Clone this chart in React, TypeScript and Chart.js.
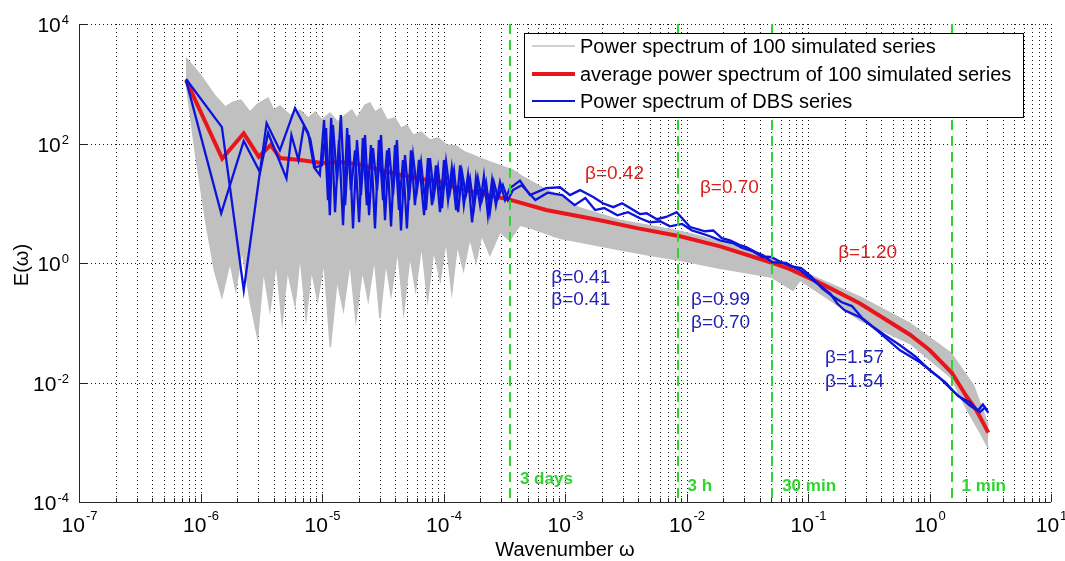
import React, { useEffect, useRef } from "react";
import { Chart, registerables } from "chart.js";

Chart.register(...registerables);

// ---------- axis / tick definitions ----------
const xDecades = [-7, -6, -5, -4, -3, -2, -1, 0, 1];
const yDecades = [-4, -2, 0, 2, 4];
const minorMultipliers = [2, 3, 4, 5, 6, 7, 8, 9];
const xMin = 1e-7;
const xMax = 10;
const yMin = 1e-4;
const yMax = 1e4;

const legendLabels = [
  "Power spectrum of 100 simulated series",
  "average power spectrum of 100 simulated series",
  "Power spectrum of DBS series",
];
const xTitle = "Wavenumber \u03c9";
const yTitle = "E(\u03c9)";

// ---------- simulated series envelope (gray band) ----------
const simUpperFreq = [7.6e-7, 1e-6, 1.3e-6, 1.6e-6, 1.85e-6, 2.15e-6, 2.55e-6, 2.95e-6, 3.6e-6, 4.0e-6, 4.5e-6, 5.45e-6, 6.6e-6, 7.7e-6, 8.8e-6, 1.0e-5, 1.16e-5, 1.35e-5, 1.55e-5, 1.76e-5, 1.94e-5, 2.26e-5, 2.48e-5, 2.73e-5, 3.06e-5, 3.43e-5, 3.99e-5, 4.47e-5, 5.0e-5, 5.61e-5, 6.53e-5, 7.74e-5, 9.01e-5, 1.07e-4, 1.27e-4, 1.5e-4, 1.75e-4, 2.0e-4, 2.41e-4, 2.92e-4, 3.73e-4, 4.4e-4, 6.2e-4, 9.1e-4, 1.33e-3, 2.84e-3, 8.85e-3, 0.0228, 0.05, 0.104, 0.268, 0.691, 1.5, 2.3, 3.05];
const simUpperPower = [2700, 1400, 650, 410, 490, 533, 336, 457, 575, 363, 424, 299, 363, 266, 336, 247, 323, 228, 299, 363, 266, 440, 475, 336, 390, 247, 266, 181, 203, 138, 155, 114, 123, 94, 91, 72, 64, 57, 49, 43, 35.8, 28.4, 19.3, 13.2, 8.3, 5.2, 3.4, 2.1, 1.25, 0.63, 0.27, 0.098, 0.031, 0.009, 0.0019];

const simLowerFreq = [7.6e-7, 9e-7, 1.1e-6, 1.3e-6, 1.5e-6, 1.75e-6, 1.95e-6, 2.2e-6, 2.55e-6, 2.95e-6, 3.3e-6, 3.73e-6, 4.2e-6, 4.7e-6, 5.2e-6, 6e-6, 6.6e-6, 7.4e-6, 8.2e-6, 9.2e-6, 1.04e-5, 1.17e-5, 1.33e-5, 1.5e-5, 1.7e-5, 1.9e-5, 2.15e-5, 2.4e-5, 2.7e-5, 3.0e-5, 3.35e-5, 3.7e-5, 4.2e-5, 4.7e-5, 5.3e-5, 5.9e-5, 6.6e-5, 7.4e-5, 8.3e-5, 9.4e-5, 1.05e-4, 1.17e-4, 1.3e-4, 1.46e-4, 1.65e-4, 1.85e-4, 2.06e-4, 2.41e-4, 2.92e-4, 3.5e-4, 4.26e-4, 5.15e-4, 9.1e-4, 2.5e-3, 5e-3, 8.85e-3, 0.0189, 0.05, 0.075, 0.086, 0.152, 0.268, 0.691, 1.5, 2.05, 2.6, 3.05];
const simLowerPower = [1070, 77, 5.2, 0.76, 0.27, 1.03, 0.35, 1.64, 0.238, 0.057, 0.76, 0.162, 1.03, 0.102, 0.76, 0.196, 1.35, 0.119, 0.76, 0.238, 1.03, 0.039, 0.515, 0.162, 1.03, 0.11, 0.76, 0.238, 1.2, 0.119, 1.03, 0.29, 1.64, 0.15, 1.3, 0.35, 2.0, 0.238, 1.64, 0.515, 2.4, 0.324, 2.0, 0.76, 2.6, 1.03, 2.9, 1.35, 3.3, 2.4, 4.3, 3.9, 2.6, 1.75, 1.35, 1.11, 0.82, 0.58, 0.35, 0.515, 0.238, 0.11, 0.045, 0.0122, 0.0034, 0.00147, 0.0008];

// ---------- average of simulated series (red) ----------
const avgFreq = [7.6e-7, 1.51e-6, 2.27e-6, 3.02e-6, 3.78e-6, 4.53e-6, 6.6e-6, 1.0e-5, 1.41e-5, 2.0e-5, 3.0e-5, 4.4e-5, 7e-5, 9.4e-5, 1.2e-4, 2.0e-4, 3.5e-4, 7e-4, 1.94e-3, 4e-3, 8.85e-3, 0.0189, 0.049, 0.0711, 0.126, 0.268, 0.392, 0.691, 1.0, 1.52, 2.0, 2.44, 3.05];
const avgPower = [1150, 56, 148, 60, 94, 57, 53, 47, 49, 45, 36, 30, 25, 23, 19, 14.5, 11.5, 7.7, 5.2, 3.8, 2.8, 1.9, 1.03, 0.79, 0.46, 0.21, 0.13, 0.063, 0.035, 0.0147, 0.006, 0.0034, 0.00145];

// ---------- DBS series (blue, two realisations) ----------
const dbsAFreq = [7.6e-7, 1.5e-6, 2.27e-6, 3.5e-6, 4.5e-6, 6.0e-6, 7.7e-6, 8.6e-6, 9.6e-6, 1.04e-5, 1.12e-5, 1.19e-5, 1.28e-5, 1.38e-5, 1.49e-5, 1.61e-5, 1.73e-5, 1.87e-5, 2.02e-5, 2.17e-5, 2.34e-5, 2.53e-5, 2.73e-5, 2.94e-5, 3.18e-5, 3.43e-5, 3.70e-5, 3.99e-5, 4.30e-5, 4.64e-5, 5.00e-5, 5.40e-5, 5.82e-5, 6.28e-5, 6.92e-5, 7.45e-5, 8.04e-5, 8.67e-5, 9.36e-5, 1.01e-4, 1.09e-4, 1.17e-4, 1.27e-4, 1.37e-4, 1.47e-4, 1.59e-4, 1.72e-4, 1.85e-4, 2.0e-4, 2.15e-4, 2.32e-4, 2.51e-4, 2.70e-4, 2.92e-4, 3.21e-4, 3.52e-4, 4.26e-4, 5.15e-4, 7e-4, 9.1e-4, 1.1e-3, 1.33e-3, 1.72e-3, 2.05e-3, 2.5e-3, 2.95e-3, 3.43e-3, 4.14e-3, 4.7e-3, 5.7e-3, 6.8e-3, 8.3e-3, 0.0107, 0.0142, 0.0166, 0.0195, 0.0228, 0.0275, 0.031, 0.037, 0.0424, 0.051, 0.066, 0.0767, 0.086, 0.11, 0.152, 0.174, 0.2, 0.268, 0.367, 0.572, 0.835, 1.22, 1.57, 2.15, 2.6, 2.86, 3.05];
const dbsAPower = [1200, 188, 0.35, 220, 77, 390, 150, 40, 29.6, 247, 11.3, 266, 7.1, 114, 4.3, 181, 16.6, 77, 4.8, 123, 9.3, 94, 3.8, 114, 11.3, 77, 4.1, 94, 7.7, 53, 3.8, 77, 9.3, 53, 6.3, 57, 9.3, 43, 7.1, 53, 11.3, 38.7, 7.7, 43, 9.3, 29.6, 4.8, 26.3, 9.3, 28.4, 6.3, 24.4, 9.3, 22.5, 11.3, 17.9, 24, 13.7, 17.9, 18.5, 13.7, 16.6, 12.6, 10, 8.6, 10, 8.3, 6.6, 6.8, 5.4, 5.9, 7.1, 4.0, 3.4, 3.5, 2.6, 2.4, 1.99, 1.84, 1.52, 1.35, 1.03, 1.0, 0.85, 0.76, 0.515, 0.31, 0.21, 0.162, 0.124, 0.075, 0.0346, 0.0218, 0.0118, 0.0071, 0.0041, 0.0032, 0.0038, 0.0031];

const dbsBFreq = [7.6e-7, 1.48e-6, 2.27e-6, 3.09e-6, 3.6e-6, 5.1e-6, 5.6e-6, 6.4e-6, 7.1e-6, 8e-6, 8.8e-6, 1.0e-5, 1.08e-5, 1.16e-5, 1.23e-5, 1.33e-5, 1.43e-5, 1.55e-5, 1.67e-5, 1.80e-5, 1.94e-5, 2.09e-5, 2.26e-5, 2.44e-5, 2.63e-5, 2.84e-5, 3.06e-5, 3.30e-5, 3.56e-5, 3.84e-5, 4.14e-5, 4.47e-5, 4.82e-5, 5.20e-5, 5.61e-5, 6.05e-5, 6.53e-5, 7.18e-5, 7.74e-5, 8.35e-5, 9.01e-5, 9.72e-5, 1.05e-4, 1.13e-4, 1.22e-4, 1.32e-4, 1.42e-4, 1.53e-4, 1.65e-4, 1.78e-4, 1.92e-4, 2.07e-4, 2.24e-4, 2.41e-4, 2.60e-4, 2.81e-4, 3.08e-4, 3.39e-4, 3.73e-4, 4.4e-4, 5.7e-4, 7.2e-4, 9.5e-4, 1.2e-3, 1.47e-3, 1.77e-3, 2.1e-3, 2.7e-3, 3.3e-3, 4.14e-3, 5.0e-3, 6.05e-3, 7.3e-3, 9.2e-3, 0.0111, 0.0129, 0.0156, 0.0189, 0.024, 0.0288, 0.0348, 0.042, 0.0497, 0.06, 0.073, 0.088, 0.106, 0.13, 0.158, 0.19, 0.23, 0.28, 0.34, 0.43, 0.572, 0.76, 1.01, 1.35, 1.72, 2.15, 2.5, 2.75, 2.97];
const dbsBPower = [1150, 6.8, 110, 33, 150, 26, 138, 53, 200, 120, 40, 43, 181, 6.3, 203, 24.4, 299, 9.3, 138, 3.8, 114, 13.7, 138, 6.3, 84, 16.6, 138, 5.2, 84, 13.7, 114, 3.5, 64, 11.3, 64, 16.6, 49, 7.7, 57, 13.7, 38.7, 8.3, 49, 15.3, 35.8, 7.1, 33.2, 13.7, 26.3, 8.3, 26.3, 11.3, 22.5, 7.1, 22.5, 12.2, 20.1, 11.3, 16.6, 20, 11.3, 15, 13.7, 9.3, 12.2, 7.7, 8.3, 6.3, 7.1, 5.6, 4.8, 5.0, 4.1, 4.5, 3.5, 3.2, 2.8, 2.4, 2.16, 1.78, 1.58, 1.26, 1.26, 1.03, 0.88, 0.82, 0.6, 0.38, 0.28, 0.22, 0.19, 0.119, 0.087, 0.062, 0.042, 0.0275, 0.016, 0.0101, 0.0059, 0.0047, 0.0034, 0.0043, 0.0034];

// ---------- period markers ----------
const periodFreq = [3.52e-4, 8.44e-3, 0.0507, 1.52];
const periodLabels = ["3 days", "3 h", "30 min", "1 min"];
const periodLabelLevel = [1.97e-4, 1.5e-4, 1.5e-4, 1.5e-4];

// ---------- slope annotations ----------
const betaTexts = ["\u03b2=0.42", "\u03b2=0.70", "\u03b2=1.20", "\u03b2=0.41", "\u03b2=0.41", "\u03b2=0.99", "\u03b2=0.70", "\u03b2=1.57", "\u03b2=1.54"];
const betaFreq = [1.46e-3, 0.0129, 0.177, 7.7e-4, 7.7e-4, 0.0109, 0.0109, 0.138, 0.138];
const betaPower = [25, 14.8, 1.2, 0.46, 0.196, 0.196, 0.081, 0.021, 0.0083];
const betaIsSim = [true, true, true, false, false, false, false, false, false];

const GRAY = "#c0c0c0";
const RED = "#e8161c";
const BLUE = "#0c14dc";
const GREEN = "#2fd42f";
const FONT = "'Liberation Sans', Arial, sans-serif";

const pts = (xs: number[], ys: number[]) => xs.map((v, i) => ({ x: v, y: ys[i] }));

const decorPlugin = {
  id: "decor",
  beforeDatasetsDraw(chart: any) {
    const { ctx, chartArea: a, scales } = chart;
    const sx = scales.x;
    const sy = scales.y;
    ctx.save();
    ctx.strokeStyle = "#1a1a1a";
    ctx.lineWidth = 1;
    ctx.setLineDash([1, 3]);
    for (const d of xDecades) {
      const vals = [Math.pow(10, d)];
      if (d < xDecades[xDecades.length - 1]) minorMultipliers.forEach((m) => vals.push(m * Math.pow(10, d)));
      for (const v of vals) {
        const px = Math.round(sx.getPixelForValue(v)) + 0.5;
        ctx.beginPath();
        ctx.moveTo(px, a.top);
        ctx.lineTo(px, a.bottom);
        ctx.stroke();
      }
    }
    for (const d of yDecades) {
      const py = Math.round(sy.getPixelForValue(Math.pow(10, d))) + 0.5;
      ctx.beginPath();
      ctx.moveTo(a.left, py);
      ctx.lineTo(a.right, py);
      ctx.stroke();
    }
    ctx.restore();
  },
  afterDatasetsDraw(chart: any) {
    const { ctx, chartArea: a, scales } = chart;
    const sx = scales.x;
    const sy = scales.y;
    ctx.save();

    // green period lines
    ctx.strokeStyle = GREEN;
    ctx.lineWidth = 2;
    ctx.setLineDash([10, 6]);
    periodFreq.forEach((f) => {
      const px = Math.round(sx.getPixelForValue(f));
      ctx.beginPath();
      ctx.moveTo(px, a.top);
      ctx.lineTo(px, a.bottom);
      ctx.stroke();
    });
    ctx.setLineDash([]);
    ctx.fillStyle = GREEN;
    ctx.font = `bold 17px ${FONT}`;
    ctx.textBaseline = "alphabetic";
    ctx.textAlign = "left";
    periodFreq.forEach((f, i) => {
      ctx.fillText(periodLabels[i], sx.getPixelForValue(f) + 10, sy.getPixelForValue(periodLabelLevel[i]));
    });

    // beta annotations
    ctx.font = `19px ${FONT}`;
    betaTexts.forEach((t, i) => {
      ctx.fillStyle = betaIsSim[i] ? "#d8201e" : "#2222b8";
      ctx.fillText(t, sx.getPixelForValue(betaFreq[i]), sy.getPixelForValue(betaPower[i]));
    });

    // axes lines
    ctx.strokeStyle = "#262626";
    ctx.lineWidth = 1;
    ctx.beginPath();
    ctx.moveTo(a.left + 0.5, a.top);
    ctx.lineTo(a.left + 0.5, a.bottom + 0.5);
    ctx.lineTo(a.right, a.bottom + 0.5);
    ctx.stroke();

    // tick marks
    ctx.beginPath();
    for (const d of xDecades) {
      const major = Math.round(sx.getPixelForValue(Math.pow(10, d))) + 0.5;
      ctx.moveTo(major, a.bottom);
      ctx.lineTo(major, a.bottom - 8);
      if (d < xDecades[xDecades.length - 1]) {
        for (const m of minorMultipliers) {
          const px = Math.round(sx.getPixelForValue(m * Math.pow(10, d))) + 0.5;
          ctx.moveTo(px, a.bottom);
          ctx.lineTo(px, a.bottom - 4);
        }
      }
    }
    for (const d of yDecades) {
      const py = Math.round(sy.getPixelForValue(Math.pow(10, d))) + 0.5;
      ctx.moveTo(a.left, py);
      ctx.lineTo(a.left + 8, py);
    }
    ctx.stroke();

    // tick labels
    ctx.fillStyle = "#000";
    const bigFont = `21px ${FONT}`;
    const smallFont = `13px ${FONT}`;
    for (const d of xDecades) {
      const px = sx.getPixelForValue(Math.pow(10, d));
      const exp = String(d);
      ctx.font = bigFont;
      const w1 = ctx.measureText("10").width;
      ctx.font = smallFont;
      const w2 = ctx.measureText(exp).width;
      const start = px - (w1 + w2) / 2;
      ctx.font = bigFont;
      ctx.fillText("10", start, a.bottom + 30);
      ctx.font = smallFont;
      ctx.fillText(exp, start + w1 + 1, a.bottom + 18);
    }
    for (const d of yDecades) {
      const py = sy.getPixelForValue(Math.pow(10, d));
      const exp = String(d);
      ctx.font = bigFont;
      const w1 = ctx.measureText("10").width;
      ctx.font = smallFont;
      const w2 = ctx.measureText(exp).width;
      const right = a.left - 10;
      ctx.font = smallFont;
      ctx.fillText(exp, right - w2, py);
      ctx.font = bigFont;
      ctx.fillText("10", right - w2 - w1 - 1, py + 8);
    }

    // axis titles
    ctx.font = `20px ${FONT}`;
    ctx.textAlign = "center";
    ctx.fillText(xTitle, (a.left + a.right) / 2 + 0, a.bottom + 54);
    ctx.save();
    ctx.translate(28, (a.top + a.bottom) / 2 + 2);
    ctx.rotate(-Math.PI / 2);
    ctx.fillText(yTitle, 0, 0);
    ctx.restore();

    // legend
    const lx = 524, ly = 33, lw = 499, lh = 84;
    ctx.fillStyle = "#fff";
    ctx.fillRect(lx, ly, lw, lh);
    ctx.strokeStyle = "#000";
    ctx.lineWidth = 1;
    ctx.strokeRect(lx + 0.5, ly + 0.5, lw, lh);
    const rows = [46, 74, 101];
    const colors = [GRAY, RED, BLUE];
    const widths = [1.5, 4, 2];
    ctx.textAlign = "left";
    ctx.font = `20px ${FONT}`;
    rows.forEach((ry, i) => {
      ctx.strokeStyle = colors[i];
      ctx.lineWidth = widths[i];
      ctx.beginPath();
      ctx.moveTo(532, ry);
      ctx.lineTo(575, ry);
      ctx.stroke();
      ctx.fillStyle = "#000";
      ctx.fillText(legendLabels[i], 580, ry + 7);
    });

    ctx.restore();
  },
};

export default function App() {
  const canvasRef = useRef<HTMLCanvasElement | null>(null);

  useEffect(() => {
    const canvas = canvasRef.current;
    if (!canvas) return;
    const chart = new Chart(canvas, {
      type: "line",
      data: {
        datasets: [
          {
            label: legendLabels[0],
            data: pts(simUpperFreq, simUpperPower),
            borderColor: GRAY,
            backgroundColor: GRAY,
            borderWidth: 1.5,
            pointRadius: 0,
            fill: "+1",
            order: 3,
          },
          {
            label: "sim lower",
            data: pts(simLowerFreq, simLowerPower),
            borderColor: GRAY,
            backgroundColor: GRAY,
            borderWidth: 1.5,
            pointRadius: 0,
            fill: false,
            order: 3,
          },
          {
            label: legendLabels[1],
            data: pts(avgFreq, avgPower),
            borderColor: RED,
            borderWidth: 4,
            pointRadius: 0,
            fill: false,
            order: 2,
          },
          {
            label: legendLabels[2],
            data: pts(dbsAFreq, dbsAPower),
            borderColor: BLUE,
            borderWidth: 2.3,
            pointRadius: 0,
            fill: false,
            order: 1,
          },
          {
            label: "DBS 2",
            data: pts(dbsBFreq, dbsBPower),
            borderColor: BLUE,
            borderWidth: 2.3,
            pointRadius: 0,
            fill: false,
            order: 0,
          },
        ],
      },
      options: {
        responsive: false,
        animation: false,
        devicePixelRatio: 1,
        layout: { padding: { left: 79, right: 14, top: 24, bottom: 59 } },
        plugins: { legend: { display: false }, tooltip: { enabled: false } },
        elements: { line: { tension: 0 } },
        scales: {
          x: { type: "logarithmic", min: xMin, max: xMax, display: false },
          y: { type: "logarithmic", min: yMin, max: yMax, display: false },
        },
      },
      plugins: [decorPlugin],
    });
    return () => chart.destroy();
  }, []);

  return (
    <div style={{ position: "absolute", left: 0, top: 0, width: 1065, height: 561, background: "#fff" }}>
      <canvas ref={canvasRef} width={1065} height={561} style={{ display: "block" }} />
    </div>
  );
}
